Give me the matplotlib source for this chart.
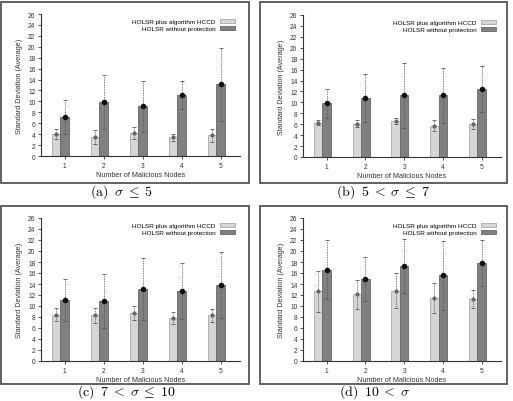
import numpy as np
import matplotlib
matplotlib.use("Agg")
import matplotlib.pyplot as plt
from matplotlib.patches import Rectangle

plt.rcParams["font.family"] = ["Liberation Sans", "DejaVu Sans"]
plt.rcParams["mathtext.fontset"] = "cm"

nodes = [1, 2, 3, 4, 5]
series_names = ["HOLSR plus algorithm HCCD", "HOLSR without protection"]
captions = [r"$\mathrm{(a)}\;\;\sigma\;\leq\;5$", r"$\mathrm{(b)}\;\;5\;<\;\sigma\;\leq\;7$",
            r"$\mathrm{(c)}\;\;7\;<\;\sigma\;\leq\;10$", r"$\mathrm{(d)}\;\;10\;<\;\sigma$"]

# (a) sigma <= 5
hccd_a = [4.1, 3.5, 4.3, 3.4, 3.8]
hccd_a_err = [0.9, 1.3, 1.1, 0.7, 1.2]
noprot_a = [7.2, 9.9, 9.1, 11.2, 13.1]
noprot_a_err = [3.1, 5.0, 4.7, 2.6, 6.6]

# (b) 5 < sigma <= 7
hccd_b = [6.3, 6.1, 6.6, 5.7, 6.0]
hccd_b_err = [0.5, 0.6, 0.5, 1.0, 0.9]
noprot_b = [9.8, 10.8, 11.3, 11.3, 12.4]
noprot_b_err = [2.7, 4.4, 6.0, 5.0, 4.2]

# (c) 7 < sigma <= 10
hccd_c = [8.4, 8.3, 8.7, 7.9, 8.3]
hccd_c_err = [1.2, 1.3, 1.3, 1.1, 1.2]
noprot_c = [11.1, 10.9, 13.1, 12.8, 13.9]
noprot_c_err = [3.9, 4.9, 5.7, 5.1, 6.0]

# (d) 10 < sigma
hccd_d = [12.7, 12.1, 12.8, 11.5, 11.3]
hccd_d_err = [3.7, 2.7, 3.2, 2.7, 1.6]
noprot_d = [16.6, 15.0, 17.2, 15.6, 17.8]
noprot_d_err = [5.4, 4.0, 4.9, 6.3, 4.2]

W, H = 513, 402
fig = plt.figure(figsize=(W / 100, H / 100), dpi=100)


def px_rect(x0, y0, x1, y1):
    return [x0 / W, 1 - y1 / H, (x1 - x0) / W, (y1 - y0) / H]


def draw_panel(frame, axbox, cap_xy, caption, hccd, hccd_err, noprot, noprot_err):
    fx0, fy0, fx1, fy1 = frame
    fig.patches.append(Rectangle((fx0 / W, 1 - fy1 / H), (fx1 - fx0) / W, (fy1 - fy0) / H,
                                 transform=fig.transFigure, fill=False,
                                 edgecolor="#555555", linewidth=1.3))
    ax = fig.add_axes(px_rect(*axbox))
    x = np.array(nodes)
    w = 0.22
    ax.bar(x - w, hccd, w, color="#d6d6d6", edgecolor="#a8a8a8", linewidth=0.6,
           label=series_names[0], zorder=2)
    ax.bar(x, noprot, w, color="#808080", edgecolor="#666666", linewidth=0.6,
           label=series_names[1], zorder=2)
    for xs, ys, es, mc, ms in [(x - w, hccd, hccd_err, "#666666", 2.0),
                               (x, noprot, noprot_err, "#111111", 3.0)]:
        eb = ax.errorbar(xs, ys, yerr=es, fmt="o", color=mc, markersize=ms,
                         ecolor="#555555", elinewidth=0.6, capsize=1.2,
                         capthick=0.6, zorder=3)
        eb[2][0].set_linestyle((0, (1, 1)))
    ax.set_xlim(0.39, 5.5)
    ax.set_ylim(0, 26)
    ax.set_yticks(range(0, 27, 2))
    ax.set_xticks(nodes)
    for s in ["top", "right"]:
        ax.spines[s].set_visible(False)
    for s in ["left", "bottom"]:
        ax.spines[s].set_linewidth(0.8)
        ax.spines[s].set_color("#333333")
    ax.tick_params(labelsize=4.8, length=2, width=0.6, colors="#333333", pad=2)
    ax.set_xlabel("Number of Malicious Nodes", fontsize=5.2, color="#333333", labelpad=1.5)
    ax.set_ylabel("Standard Deviation (Average)", fontsize=5.2, color="#333333", labelpad=4)
    ax.legend(loc="upper right", bbox_to_anchor=(1.0, 1.0), frameon=False,
              markerfirst=False, fontsize=4.6, handlelength=2.4, handleheight=0.6,
              labelspacing=0.2, borderaxespad=0.4, handletextpad=0.6)
    fig.text(cap_xy[0] / W, 1 - cap_xy[1] / H, caption, ha="center", va="center",
             fontsize=10)


draw_panel((1, 3, 249, 184), (41, 15, 240, 157), (122, 192), captions[0],
           hccd_a, hccd_a_err, noprot_a, noprot_a_err)
draw_panel((260, 3, 507, 184), (303, 16, 501, 158), (383, 192), captions[1],
           hccd_b, hccd_b_err, noprot_b, noprot_b_err)
draw_panel((1, 207, 249, 385), (41, 219, 240, 362), (126, 392), captions[2],
           hccd_c, hccd_c_err, noprot_c, noprot_c_err)
draw_panel((260, 207, 507, 385), (303, 219, 501, 362), (375, 392), captions[3],
           hccd_d, hccd_d_err, noprot_d, noprot_d_err)

fig.savefig("out.png", dpi=100)
